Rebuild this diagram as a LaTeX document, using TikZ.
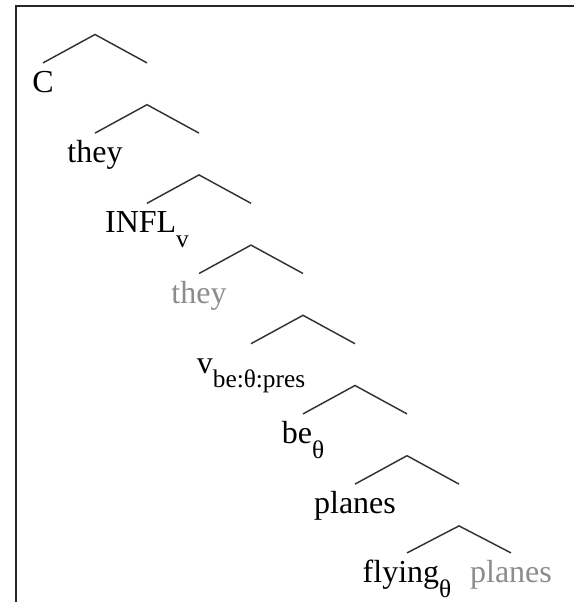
\documentclass[tikz,border=0pt]{standalone}
\usepackage{fontspec}
\setmainfont{Liberation Serif}
\usetikzlibrary{positioning}
\definecolor{tracegray}{gray}{0.55}
\definecolor{legcol}{gray}{0.2}
\newcommand{\sbs}[1]{\raisebox{-11pt}{\fontsize{19}{19}\selectfont #1}}

\begin{document}
\begin{tikzpicture}[
  x=0.75pt, y=-0.75pt,
  lex/.style={anchor=base, inner xsep=0pt, inner ysep=6pt, text height=16pt, font=\fontsize{24}{28}\selectfont},
  lexgray/.style={lex, text=tracegray},
  leg/.style={draw=legcol, line width=1.1pt},
  frame/.style={draw=black!85, line width=1.3pt}
]
\useasboundingbox (0,0) rectangle (574,602);
\draw[frame] (16,602) -- (16,5.8) -- (574,5.8);

% apexes
\coordinate (top0) at (95,34.5);
\coordinate (top1) at (147,104.7);
\coordinate (top2) at (199,174.9);
\coordinate (top3) at (251,245.1);
\coordinate (top4) at (303,315.3);
\coordinate (top5) at (355,385.5);
\coordinate (top6) at (407,455.7);
\coordinate (top7) at (459,525.9);

% words
\node[lex] (c) at (43,92.5) {C};
\node[lex] (they1) at (95,162.7) {they};
\node[lex] (infl) at (147,232.9) {INFL\sbs{v}};
\node[lexgray] (they2) at (199,303.1) {they};
\node[lex] (vbe) at (251,373.3) {v\sbs{be:θ:pres}};
\node[lex] (be) at (303,443.5) {be\sbs{θ}};
\node[lex] (planes1) at (355,513.7) {planes};
\node[lex] (flying) at (407,582.5) {flying\sbs{θ}};
\node[lexgray] (planes2) at (511,582.5) {planes};

% branches
\draw[leg] (c.north) -- (top0) -- (top1 |- c.north);
\draw[leg] (they1.north) -- (top1) -- (top2 |- they1.north);
\draw[leg] (infl.north) -- (top2) -- (top3 |- infl.north);
\draw[leg] (they2.north) -- (top3) -- (top4 |- they2.north);
\draw[leg] (vbe.north) -- (top4) -- (top5 |- vbe.north);
\draw[leg] (be.north) -- (top5) -- (top6 |- be.north);
\draw[leg] (planes1.north) -- (top6) -- (top7 |- planes1.north);
\draw[leg] (flying.north) -- (top7) -- (planes2.north);
\end{tikzpicture}
\end{document}
